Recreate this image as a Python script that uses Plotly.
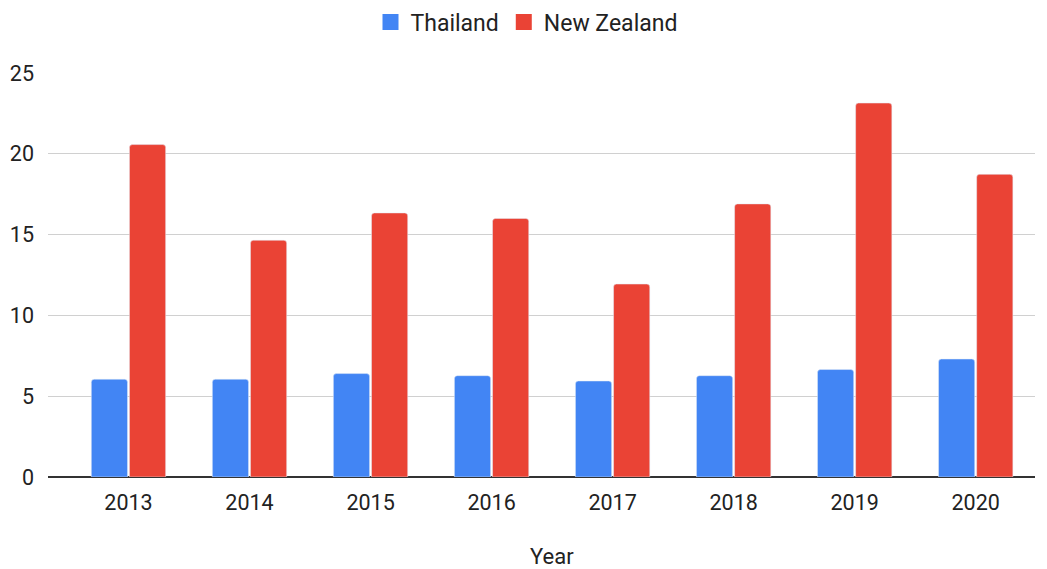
import plotly.graph_objects as go

years = ["2013", "2014", "2015", "2016", "2017", "2018", "2019", "2020"]
thailand = [6.05, 6.05, 6.4, 6.27, 5.94, 6.27, 6.65, 7.3]
new_zealand = [20.57, 14.65, 16.34, 16.0, 11.94, 16.9, 23.14, 18.73]
y_ticks = [0, 5, 10, 15, 20, 25]

BLUE = "#4285F4"
RED = "#EA4335"
TXT = "#222222"
FONT = "Roboto"

# the page body has an 8px default margin, so the figure is sized/offset to compensate
W, H = 1039, 561

fig = go.Figure()
fig.add_trace(go.Bar(x=years, y=thailand, name="Thailand", marker=dict(color=BLUE, cornerradius=3),
                     showlegend=False))
fig.add_trace(go.Bar(x=years, y=new_zealand, name="New Zealand", marker=dict(color=RED, cornerradius=3),
                     showlegend=False))
# legend entries
fig.add_trace(go.Scatter(x=[None], y=[None], mode="markers", name="Thailand",
                         marker=dict(symbol="square", size=16, color=BLUE)))
fig.add_trace(go.Scatter(x=[None], y=[None], mode="markers", name="New Zealand",
                         marker=dict(symbol="square", size=16, color=RED)))

fig.update_layout(
    width=W, height=H,
    margin=dict(l=40, r=12, t=65, b=92, autoexpand=False),
    paper_bgcolor="white", plot_bgcolor="white",
    font=dict(family=FONT, size=21, color=TXT),
    barmode="group", bargap=0.37, bargroupgap=0.05,
    legend=dict(orientation="h", x=518.5 / W, xanchor="center", xref="container",
                y=1 - 14 / H, yanchor="middle", yref="container",
                font=dict(size=23, color=TXT), itemsizing="trace", traceorder="normal"),
    xaxis=dict(type="category", range=[-0.665, 7.49], showgrid=False, automargin=False,
               showline=False, ticks="", ticklabelstandoff=10,
               tickfont=dict(size=21.5, color=TXT), zeroline=False),
    yaxis=dict(range=[0, 25], tickvals=y_ticks, showgrid=True, gridcolor="#d0d0d0", gridwidth=1,
               zeroline=True, zerolinecolor="#333333", zerolinewidth=1.5, automargin=False,
               showline=False, ticks="", ticklabelstandoff=13,
               tickfont=dict(size=21.5, color=TXT)),
    annotations=[dict(text="Year", x=3.5, xref="x", y=-0.196, yref="paper",
                      xanchor="center", yanchor="middle", showarrow=False,
                      font=dict(size=22, color=TXT))],
)

fig.write_html("out.html")
